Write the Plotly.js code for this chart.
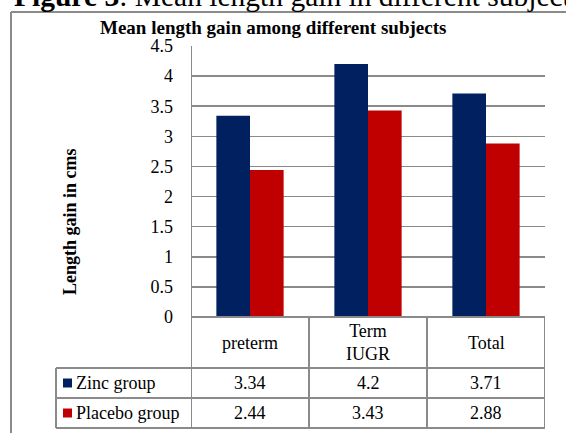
<!DOCTYPE html>
<html>
<head>
<meta charset="utf-8">
<script src="https://cdn.plot.ly/plotly-3.0.1.min.js"></script>
<style>
  html, body { margin: 0; padding: 0; background: #ffffff; }
  #chart { width: 566px; height: 433px; }
</style>
</head>
<body>
<div id="chart"></div>
<script>
// Mean length gain (cm) by subject group
const categories = ['preterm', 'Term IUGR', 'Total'];
const categoryLabels = ['preterm', 'Term<br>IUGR', 'Total'];
const seriesNames = ['Zinc group', 'Placebo group'];
const zincValues = [3.34, 4.2, 3.71];
const placeboValues = [2.44, 3.43, 2.88];
const yTickValues = [0, 0.5, 1, 1.5, 2, 2.5, 3, 3.5, 4, 4.5];
const yTickLabels = ['0', '0.5', '1', '1.5', '2', '2.5', '3', '3.5', '4', '4.5'];

const colors = ['#002060', '#C00000'];
const seriesValues = [zincValues, placeboValues];
const serif = 'Liberation Serif, Times New Roman, serif';
const lineGrey = '#8a8a8a';
const txt = { family: serif, size: 18, color: '#000' };

// Plot area in pixels inside the 566x433 page
const W = 566, H = 433;
const L = 191, R = 545, T = 46, B = 317;
const pw = R - L, ph = B - T;
const px = x => (x - L) / pw;       // page x -> paper x
const py = y => (B - y) / ph;       // page y -> paper y

const traces = seriesValues.map((vals, i) => ({
  type: 'bar',
  name: seriesNames[i],
  x: categories,
  y: vals,
  marker: { color: colors[i], line: { width: 0 } },
  hoverinfo: 'skip'
}));

// Data table under the plot
const rowTops = [317, 368, 398, 428];
const labelLeft = 56;
const shapes = [];
const annotations = [];
const line = { color: lineGrey, width: 2 };

// horizontal table rules
shapes.push({ type: 'line', xref: 'paper', yref: 'paper', x0: px(L), x1: px(R), y0: py(rowTops[0]), y1: py(rowTops[0]), line });
for (let r = 1; r < rowTops.length; r++) {
  shapes.push({ type: 'line', xref: 'paper', yref: 'paper', x0: px(labelLeft), x1: px(R), y0: py(rowTops[r]), y1: py(rowTops[r]), line });
}
// vertical table rules at category boundaries
for (let c = 0; c <= categories.length; c++) {
  shapes.push({ type: 'line', xref: 'x', yref: 'paper', x0: c - 0.5, x1: c - 0.5,
    y0: c === 0 ? 1 : py(rowTops[0]), y1: py(rowTops[3]), line });
}
shapes.push({ type: 'line', xref: 'paper', yref: 'paper', x0: px(labelLeft), x1: px(labelLeft), y0: py(rowTops[1]), y1: py(rowTops[3]), line });

// outer chart frame (top and left edges)
shapes.push({ type: 'line', xref: 'paper', yref: 'paper', x0: px(11), x1: px(W + 5), y0: py(12), y1: py(12), line });
shapes.push({ type: 'line', xref: 'paper', yref: 'paper', x0: px(11), x1: px(11), y0: py(12), y1: py(H + 5), line });

const note = (x, y, text, extra) => Object.assign({ xref: 'paper', yref: 'paper', x, y, text,
  showarrow: false, xanchor: 'center', yanchor: 'middle', font: txt }, extra || {});

// category header cells
categoryLabels.forEach((lab, i) => {
  annotations.push(note(i, py((rowTops[0] + rowTops[1]) / 2), lab, { xref: 'x' }));
});
// series rows: legend key, name and values
seriesValues.forEach((vals, s) => {
  const top = rowTops[s + 1], bot = rowTops[s + 2];
  const mid = (top + bot) / 2;
  shapes.push({ type: 'rect', xref: 'paper', yref: 'paper', x0: px(63), x1: px(72), y0: py(mid - 4.5), y1: py(mid + 4.5),
    fillcolor: colors[s], line: { width: 0 } });
  annotations.push(note(px(74), py(mid), seriesNames[s], { xanchor: 'left' }));
  vals.forEach((v, i) => {
    annotations.push(note(i, py(mid), String(v), { xref: 'x' }));
  });
});

// chart title, figure caption and axis title
annotations.push(note(px(273), py(27), '<b>Mean length gain among different subjects</b>',
  { font: { family: serif, size: 19, color: '#000' } }));
annotations.push(note(px(12), py(-4), '<b>Figure 3</b>: Mean length gain in different subjects',
  { xanchor: 'left', font: { family: serif, size: 29.5, color: '#000' } }));
annotations.push(note(px(70), py(222), '<b>Length gain in cms</b>', { textangle: -90 }));

const layout = {
  width: W, height: H,
  margin: { l: L, r: W - R, t: T, b: H - B, pad: 0 },
  paper_bgcolor: '#ffffff', plot_bgcolor: '#ffffff',
  barmode: 'group', bargap: 0.43, bargroupgap: 0,
  showlegend: false,
  xaxis: { type: 'category', range: [-0.5, 2.5], showticklabels: false, showgrid: false,
    zeroline: false, showline: false, ticks: '', fixedrange: true },
  yaxis: { range: [0, 4.5], tickvals: yTickValues, ticktext: yTickLabels,
    showgrid: true, gridcolor: lineGrey, gridwidth: 1.5, zeroline: false, showline: false,
    ticks: '', ticklabelstandoff: 17, tickfont: txt, fixedrange: true },
  shapes, annotations
};

Plotly.newPlot('chart', traces, layout, { displayModeBar: false, staticPlot: true });
</script>
</body>
</html>
